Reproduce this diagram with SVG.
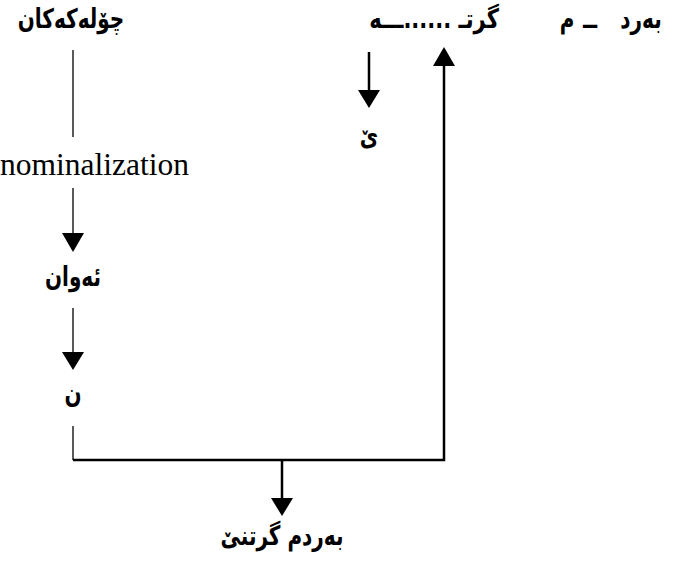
<svg xmlns="http://www.w3.org/2000/svg" width="675" height="565" viewBox="0 0 675 565">
<style>
.ar{font-family:"DejaVu Sans",sans-serif;font-size:20px;font-weight:bold;fill:#000;direction:rtl;unicode-bidi:embed;text-anchor:middle}
.en{font-family:"Liberation Serif",serif;font-size:31.5px;fill:#000}
.thin{stroke:#000;stroke-width:1.3;fill:none}
.thick{stroke:#000;stroke-width:2.5;fill:none}
.head{fill:#000}
</style>
<rect width="675" height="565" fill="#fff"/>
<g id="n-cholakakan"><text class="ar" transform="translate(71,28) scale(1,1.35)">چۆلەکەکان</text></g>
<g id="n-nominalization"><text class="en" x="0" y="175">nominalization</text></g>
<g id="n-ewan"><text class="ar" transform="translate(73,286) scale(1,1.35)">ئەوان</text></g>
<g id="n-n"><text class="ar" transform="translate(73,403) scale(1,1.35)">ن</text></g>
<g id="n-bardm-grtne"><text class="ar" transform="translate(282,545) scale(1,1.35)">بەردم گرتنێ</text></g>
<g id="n-grt"><text class="ar" transform="translate(434,28) scale(1.05,1.35)">گرتـ ......ـــه</text></g>
<g id="n-bard-m">
<text class="ar" transform="translate(641,28) scale(1,1.35)">بەرد</text>
<text class="ar" transform="translate(590,28) scale(2,1.35)">ـ</text>
<text class="ar" transform="translate(567,28) scale(1,1.35)">م</text>
</g>
<g id="n-ye"><text class="ar" transform="translate(369,145) scale(1,1.35)">ێ</text></g>
<g id="connectors">
<line class="thin" x1="73" y1="50" x2="73" y2="137"/>
<line class="thin" x1="73" y1="188" x2="73" y2="234"/>
<polygon class="head" points="62,233 84,233 73,252"/>
<line class="thin" x1="73" y1="308" x2="73" y2="353"/>
<polygon class="head" points="62,352 84,352 73,370"/>
<line class="thin" x1="73" y1="426" x2="73" y2="460"/>
<polyline class="thick" points="73,460 444,460 444,65"/>
<polygon class="head" points="433,66 455,66 444,47"/>
<line class="thick" x1="282" y1="460" x2="282" y2="499"/>
<polygon class="head" points="271,498 293,498 282,516"/>
<line class="thick" x1="369" y1="52" x2="369" y2="91"/>
<polygon class="head" points="358,90 380,90 369,108"/>
</g>
</svg>
